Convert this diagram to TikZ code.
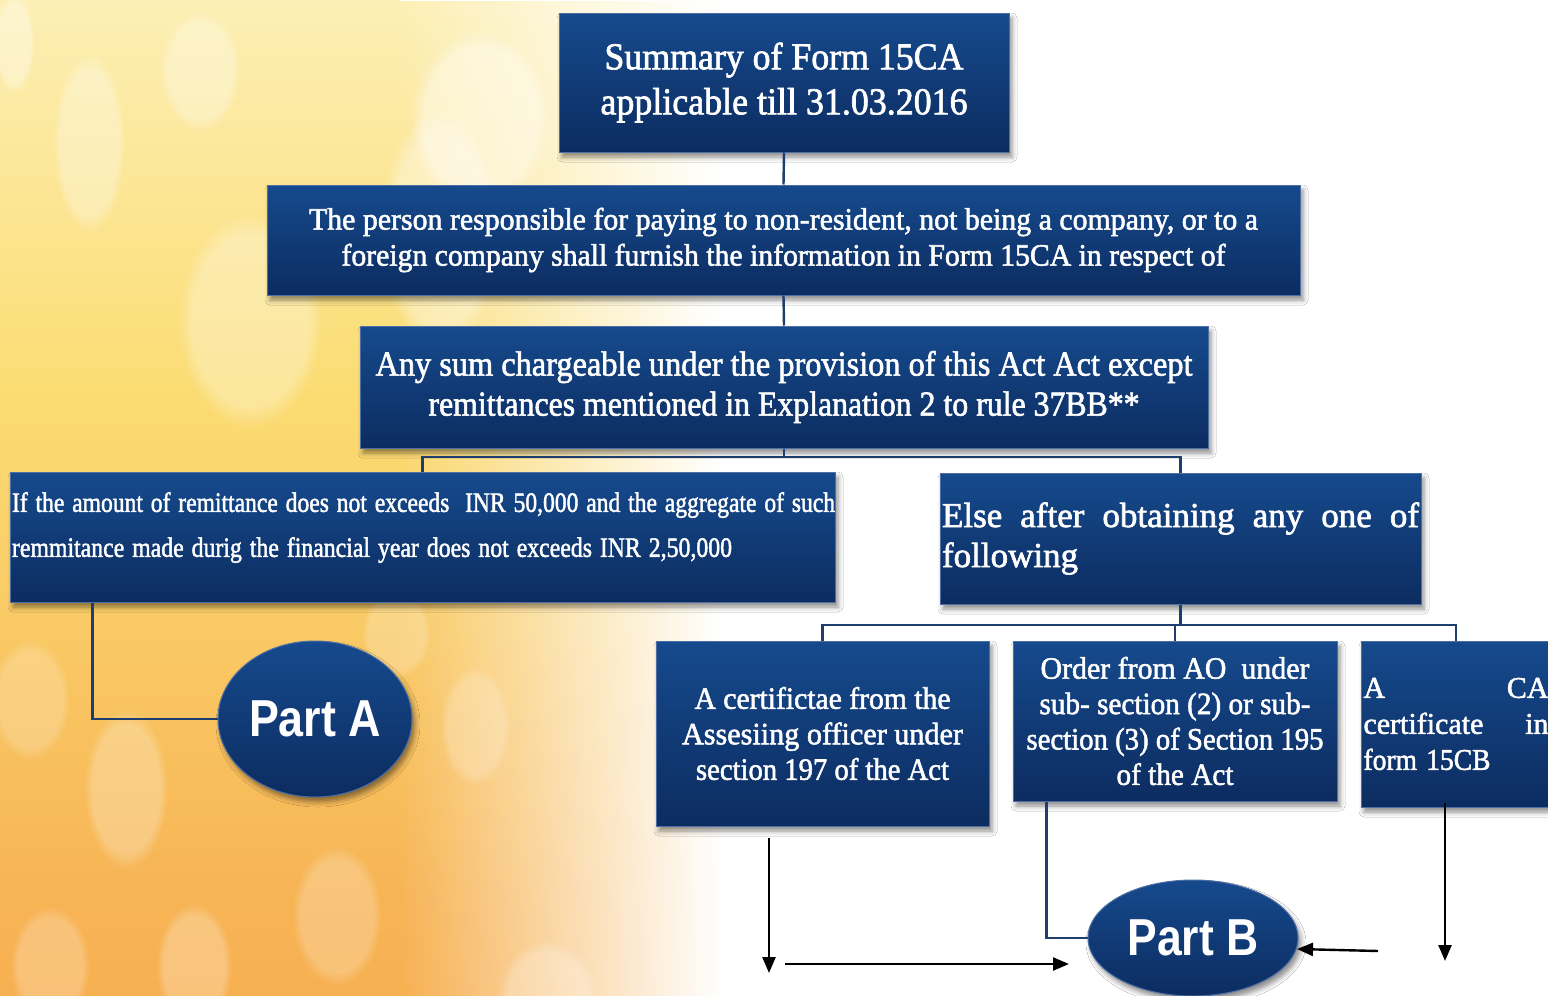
\documentclass[tikz,border=0pt]{standalone}
\usepackage{fontspec}
\setmainfont{Liberation Serif}[FakeBold=1.8]
\newfontfamily\partfont{Liberation Sans}
\usepackage{graphicx}
\usetikzlibrary{arrows.meta,shadows.blur,fadings,shapes.geometric}
\definecolor{boxtop}{HTML}{164A8D}
\definecolor{boxbot}{HTML}{0C2C60}
\definecolor{boxedge}{HTML}{4D6FA6}
\definecolor{connblue}{HTML}{1F3E70}
\definecolor{bgpale}{HTML}{FDF4C6}
\definecolor{bgyel}{HTML}{FBDC72}
\definecolor{bgora}{HTML}{F49B3C}
\definecolor{bgora2}{HTML}{F7B455}
\newlength\fwlen
\newcommand\fitw[2]{\settowidth\fwlen{#2}\pgfmathsetmacro\fwr{(#1)/\fwlen}\scalebox{\fwr}[1]{#2}}
\tikzfading[name=bgfade, left color=transparent!0, right color=transparent!100]
\pgfdeclareverticalshading{bgshade}{100bp}{color(0bp)=(bgora); color(30bp)=(bgora2); color(55bp)=(bgyel); color(80bp)=(bgpale); color(100bp)=(bgpale)}
\tikzset{
  box/.style={rectangle, top color=boxtop, bottom color=boxbot, draw=boxedge, line width=0.5pt,
    text=white, inner sep=0pt, align=center,
    blur shadow={shadow xshift=1.5pt, shadow yshift=-2.5pt, shadow blur radius=2.5pt, shadow opacity=45}},
  txt/.style={text=white, inner sep=0pt},
  partnode/.style={ellipse, top color=boxtop, bottom color=boxbot, draw=boxedge, line width=0.5pt,
    text=white, inner sep=0pt, font=\partfont\bfseries\fontsize{26}{30}\selectfont,
    blur shadow={shadow xshift=1.5pt, shadow yshift=-2.5pt, shadow blur radius=2.5pt, shadow opacity=45}},
  conn/.style={draw=connblue, line width=1.2pt},
  blkarrow/.style={draw=black, line width=1.2pt, -{Triangle[length=8pt,width=6.5pt]}}
}
\begin{document}
\begin{tikzpicture}[x=0.5pt,y=-0.5pt]
\useasboundingbox (0,0) rectangle (1548,996);
\clip (0,0) rectangle (1548,996);
% background
\fill[white] (0,0) rectangle (1548,996);
\shade[shading=bgshade] (0,0) rectangle (400,996);
\shade[shading=bgshade, path fading=bgfade] (399,0) rectangle (720,996);
\foreach \x/\y/\rx/\ry/\o in {89/143/36/90/0.3, 200/71/40/60/0.3, 250/321/72/107/0.3, 14/43/20/50/0.35,
  126/789/42/80/0.25, 194/966/38/63/0.25, 337/916/45/70/0.22, 50/966/40/60/0.22, 475/726/35/60/0.22,
  396/634/35/45/0.22, 547/1000/50/60/0.25, 440/230/60/120/0.35, 30/700/40/60/0.2, 480/120/70/90/0.4}
  \fill[white, opacity=\o, path fading=circle with fuzzy edge 20 percent] (\x,\y) ellipse [x radius=\rx, y radius=\ry];

% boxes
\node[box, minimum width=225pt, minimum height=69.5pt, font=\fontsize{19}{22.5}\selectfont] (title) at (784,82.5)
  {\fitw{179.5pt}{Summary of Form 15CA}\\\fitw{183.5pt}{applicable till 31.03.2016}};
\node[box, minimum width=516.5pt, minimum height=55pt, font=\fontsize{15.5}{18}\selectfont] (b2) at (783.5,240)
  {\fitw{474.5pt}{The person responsible for paying to non-resident, not being a company, or to a}\\
   \fitw{442pt}{foreign company shall furnish the information in Form 15CA in respect of}};
\node[box, minimum width=424pt, minimum height=61pt, font=\fontsize{17.5}{20}\selectfont] (b3) at (784,387)
  {\fitw{408.5pt}{Any sum chargeable under the provision of this Act Act except}\\
   \fitw{355.5pt}{remittances mentioned in Explanation 2 to rule 37BB**}};
\node[box, minimum width=412.5pt, minimum height=65pt] (leftbox) at (422.5,537) {};
\node[txt, align=left, text width=411.5pt, font=\fontsize{14}{22.5}\selectfont] (lefttext) at (423.5,527.5)
  {\fitw{411.5pt}{If the amount of remittance does not exceeds\ \ INR 50,000 and the aggregate of such}\\
   \fitw{360pt}{remmitance made durig the financial year does not exceeds INR 2,50,000}};
\node[box, minimum width=240.5pt, minimum height=65.5pt, align=left, text width=238.5pt, font=\fontsize{17.5}{20}\selectfont] (elsebox) at (1180.5,538.5)
  {\makebox[238.5pt]{Else\hfill after\hfill obtaining\hfill any\hfill one\hfill of}\\following};
\node[box, minimum width=166.5pt, minimum height=92.5pt, font=\fontsize{15.5}{17.75}\selectfont] (cert) at (822.5,733.5)
  {\fitw{128pt}{A certifictae from the}\\\fitw{140.5pt}{Assesiing officer under}\\\fitw{126.5pt}{section 197 of the Act}};
\node[box, minimum width=162pt, minimum height=80pt, font=\fontsize{15.5}{17.7}\selectfont] (order) at (1175,721)
  {\fitw{134.5pt}{Order from AO\ \ under}\\\fitw{135.5pt}{sub- section (2) or sub-}\\\fitw{148.5pt}{section (3) of Section 195}\\\fitw{58.5pt}{of the Act}};
\node[box, minimum width=95pt, minimum height=83pt, align=left, text width=92.5pt, font=\fontsize{15}{18}\selectfont] (ca) at (1456,724)
  {\makebox[92.5pt]{A\hfill CA}\\\makebox[92.5pt]{certificate\hfill in}\\\fitw{63.5pt}{form 15CB}};

\node[partnode, minimum width=97pt, minimum height=78pt] (partA) at (315,719) {\fitw{66pt}{Part A}};
\node[partnode, minimum width=105pt, minimum height=58pt] (partB) at (1193,938) {\fitw{65.5pt}{Part B}};

% connectors
\coordinate (j1) at (784,457);
\coordinate (j2) at (1180.5,625);
\draw[conn] (title.south) -- (b2.north);
\draw[conn] (b2.south) -- (b3.north);
\draw[conn] (b3.south) -- (j1);
\draw[conn] (j1) -| (leftbox.north);
\draw[conn] (j1) -| (elsebox.north);
\draw[conn] (elsebox.south) -- (j2);
\draw[conn] (j2) -| (cert.north);
\draw[conn] (j2) -| (order.north);
\draw[conn] (j2) -| (ca.north);
\draw[conn] ([xshift=41.5pt]leftbox.south west) |- (partA.west);
\draw[conn] ([xshift=17pt]order.south west) |- (partB.west);

% black arrows
\coordinate (a1s) at (769,838); \coordinate (a1e) at (769,973);
\coordinate (a2s) at (785,964); \coordinate (a2e) at (1069,964);
\coordinate (a3s) at (1378,951); \coordinate (a3e) at (1297,949);
\coordinate (a4s) at (1445,803); \coordinate (a4e) at (1445,961);
\draw[blkarrow] (a1s) -- (a1e);
\draw[blkarrow] (a2s) -- (a2e);
\draw[blkarrow] (a3s) -- (a3e);
\draw[blkarrow] (a4s) -- (a4e);
\end{tikzpicture}
\end{document}
